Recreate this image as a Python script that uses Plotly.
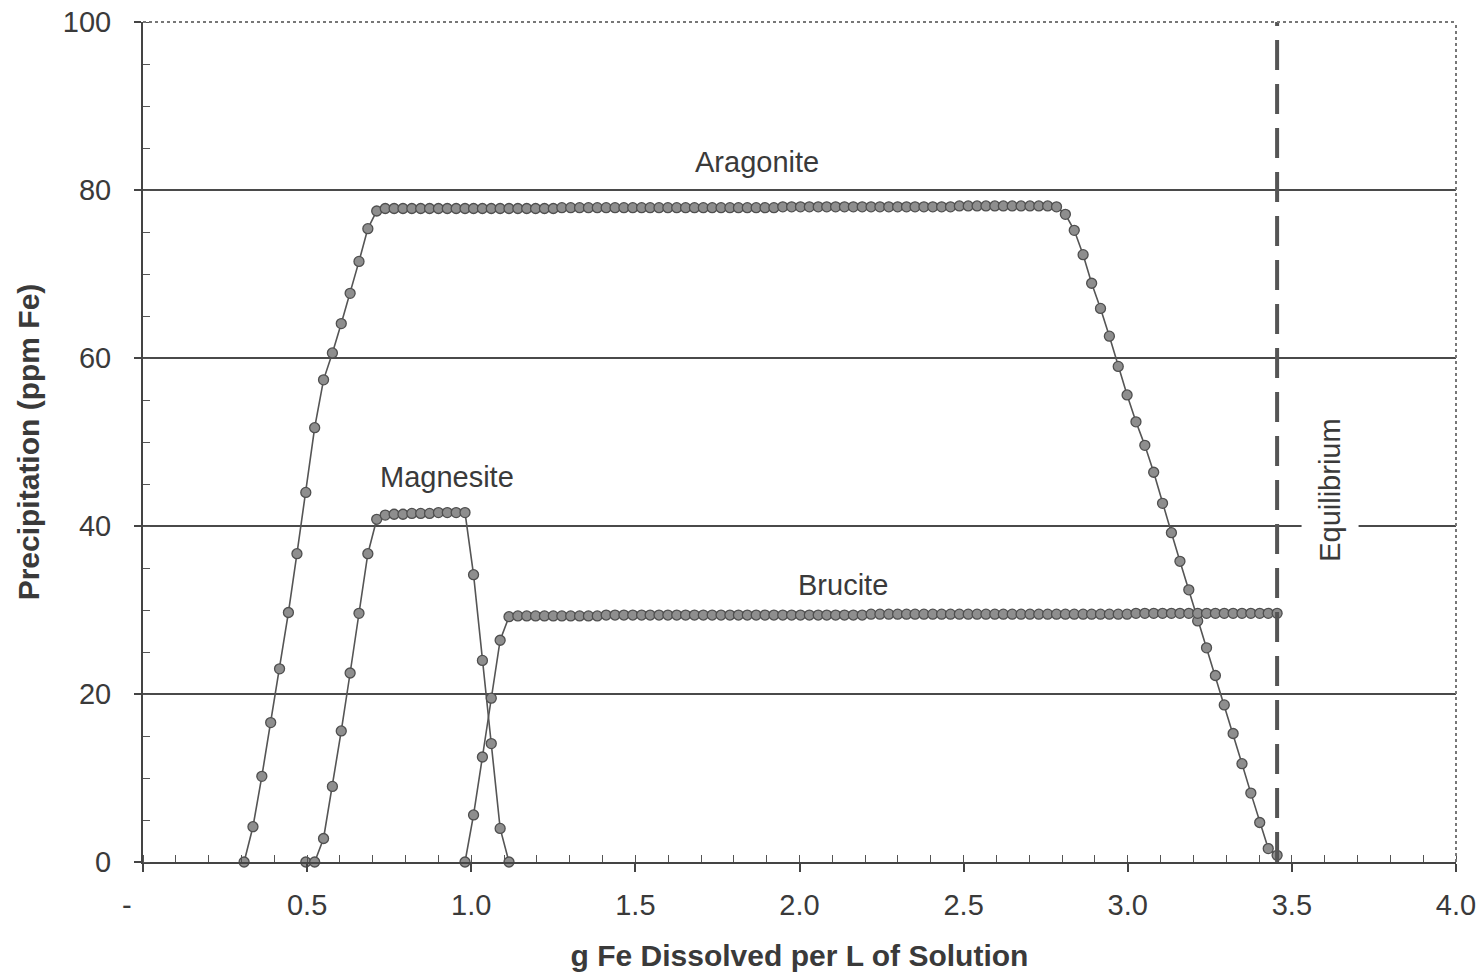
import plotly.graph_objects as go

# ---------------- data ----------------
X = [0.308, 0.335, 0.362, 0.389, 0.416, 0.443, 0.469, 0.496, 0.523, 0.550,
     0.577, 0.604, 0.631, 0.658, 0.685, 0.712, 0.738, 0.765, 0.792, 0.819,
     0.846, 0.873, 0.900, 0.927, 0.954, 0.981, 1.007, 1.034, 1.061, 1.088,
     1.115, 1.142, 1.169, 1.196, 1.223, 1.250, 1.276, 1.303, 1.330, 1.357,
     1.384, 1.411, 1.438, 1.465, 1.492, 1.519, 1.545, 1.572, 1.599, 1.626,
     1.653, 1.680, 1.707, 1.734, 1.761, 1.788, 1.814, 1.841, 1.868, 1.895,
     1.922, 1.949, 1.976, 2.003, 2.030, 2.057, 2.083, 2.110, 2.137, 2.164,
     2.191, 2.218, 2.245, 2.272, 2.299, 2.326, 2.352, 2.379, 2.406, 2.433,
     2.460, 2.487, 2.514, 2.541, 2.568, 2.595, 2.621, 2.648, 2.675, 2.702,
     2.729, 2.756, 2.783, 2.810, 2.837, 2.864, 2.890, 2.917, 2.944, 2.971,
     2.998, 3.025, 3.052, 3.079, 3.106, 3.133, 3.159, 3.186, 3.213, 3.240,
     3.267, 3.294, 3.321, 3.348, 3.375, 3.402, 3.428, 3.455]

aragonite = [0.0, 4.2, 10.2, 16.6, 23.0, 29.7, 36.7, 44.0, 51.7, 57.4,
             60.6, 64.1, 67.7, 71.5, 75.4, 77.5, 77.8, 77.8, 77.8, 77.8,
             77.8, 77.8, 77.8, 77.8, 77.8, 77.8, 77.8, 77.8, 77.8, 77.8,
             77.8, 77.8, 77.8, 77.8, 77.8, 77.8, 77.9, 77.9, 77.9, 77.9,
             77.9, 77.9, 77.9, 77.9, 77.9, 77.9, 77.9, 77.9, 77.9, 77.9,
             77.9, 77.9, 77.9, 77.9, 77.9, 77.9, 77.9, 77.9, 77.9, 77.9,
             77.9, 78.0, 78.0, 78.0, 78.0, 78.0, 78.0, 78.0, 78.0, 78.0,
             78.0, 78.0, 78.0, 78.0, 78.0, 78.0, 78.0, 78.0, 78.0, 78.0,
             78.0, 78.1, 78.1, 78.1, 78.1, 78.1, 78.1, 78.1, 78.1, 78.1,
             78.1, 78.1, 78.0, 77.1, 75.2, 72.3, 68.9, 65.9, 62.6, 59.0,
             55.6, 52.4, 49.6, 46.4, 42.7, 39.2, 35.8, 32.4, 28.7, 25.5,
             22.2, 18.7, 15.3, 11.7, 8.2, 4.7, 1.6, 0.8]

# magnesite occupies X[7] .. X[30]
magnesite_x = X[7:31]
magnesite = [0.0, 0.0, 2.8, 9.0, 15.6, 22.5, 29.6, 36.7, 40.8, 41.3,
             41.4, 41.4, 41.5, 41.5, 41.5, 41.6, 41.6, 41.6, 41.6,
             34.2, 24.0, 14.1, 4.0, 0.0]

# brucite occupies X[25] .. X[117]
brucite_x = X[25:]
brucite = [0.0, 5.6, 12.5, 19.5, 26.4, 29.2,
           29.3, 29.3, 29.3, 29.3, 29.3, 29.3, 29.3, 29.3, 29.3, 29.3,
           29.4, 29.4, 29.4, 29.4, 29.4, 29.4, 29.4, 29.4, 29.4, 29.4,
           29.4, 29.4, 29.4, 29.4, 29.4, 29.4, 29.4, 29.4, 29.4, 29.4,
           29.4, 29.4, 29.4, 29.4, 29.4, 29.4, 29.4, 29.4, 29.4, 29.4,
           29.5, 29.5, 29.5, 29.5, 29.5, 29.5, 29.5, 29.5, 29.5, 29.5,
           29.5, 29.5, 29.5, 29.5, 29.5, 29.5, 29.5, 29.5, 29.5, 29.5,
           29.5, 29.5, 29.5, 29.5, 29.5, 29.5, 29.5, 29.5, 29.5, 29.5,
           29.6, 29.6, 29.6, 29.6, 29.6, 29.6, 29.6, 29.6, 29.6, 29.6,
           29.6, 29.6, 29.6, 29.6, 29.6, 29.6, 29.6]

EQUILIBRIUM_X = 3.455

x_tickvals = [0, 0.5, 1.0, 1.5, 2.0, 2.5, 3.0, 3.5, 4.0]
x_ticktext = ["-\u00a0\u00a0\u00a0\u00a0", "0.5", "1.0", "1.5", "2.0", "2.5", "3.0", "3.5", "4.0"]
y_tickvals = [0, 20, 40, 60, 80, 100]

labels = [("Aragonite", 1.871, 83.3), ("Magnesite", 0.926, 45.8), ("Brucite", 2.133, 33.0)]

# ---------------- style ----------------
FONT = "Liberation Sans, Arial, sans-serif"
TXT = "#3a3a3a"
LINE = "#555555"
MARK_FILL = "#8e8e8e"
MARK_EDGE = "#4f4f4f"

fig = go.Figure()
for xs, ys, name in [(X, aragonite, "Aragonite"), (magnesite_x, magnesite, "Magnesite"),
                     (brucite_x, brucite, "Brucite")]:
    fig.add_trace(go.Scatter(
        x=xs, y=ys, name=name, mode="lines+markers",
        line=dict(color=LINE, width=1.6),
        marker=dict(symbol="circle", size=10, color=MARK_FILL,
                    line=dict(color=MARK_EDGE, width=1.3)),
        showlegend=False, cliponaxis=False, hoverinfo="skip"))

# equilibrium dashed line
fig.add_shape(type="line", xref="x", yref="y", x0=EQUILIBRIUM_X, x1=EQUILIBRIUM_X,
              y0=0, y1=100, line=dict(color="#555555", width=4, dash="30px,14px"))

# scanned-style top and right frame
fig.add_shape(type="line", xref="paper", yref="paper", x0=0, x1=1, y0=1, y1=1,
              line=dict(color="#777777", width=2, dash="dot"))
fig.add_shape(type="line", xref="paper", yref="paper", x0=1, x1=1, y0=0, y1=1,
              line=dict(color="#777777", width=2, dash="dot"))

for text, lx, ly in labels:
    fig.add_annotation(x=lx, y=ly, xref="x", yref="y", text=text, showarrow=False,
                       font=dict(family=FONT, size=29, color=TXT))

fig.add_annotation(x=3.616, y=44.3, xref="x", yref="y", text="Equilibrium",
                   textangle=-90, showarrow=False, bgcolor="white", borderpad=12,
                   font=dict(family=FONT, size=29, color=TXT))

fig.update_layout(
    width=1484, height=976,
    margin=dict(l=143, r=28, t=22, b=114),
    paper_bgcolor="white", plot_bgcolor="white",
    font=dict(family=FONT, color=TXT),
    hovermode=False,
    xaxis=dict(
        range=[0, 4.0], tickvals=x_tickvals, ticktext=x_ticktext, automargin=False,
        ticklabeloverflow="allow",
        showgrid=False, zeroline=False, showline=True, linecolor="#444444", linewidth=2,
        ticks="outside", ticklen=8, tickwidth=1.5, tickcolor="#444444",
        ticklabelstandoff=8,
        tickfont=dict(family=FONT, size=29, color=TXT),
        minor=dict(dtick=0.1, tick0=0, ticks="inside", ticklen=7, tickwidth=1.3,
                   tickcolor="#555555", showgrid=False),
        title=dict(text="<b>g Fe Dissolved per L of Solution</b>", standoff=25,
                   font=dict(family=FONT, size=30, color=TXT)),
    ),
    yaxis=dict(
        range=[0, 100], tickvals=y_tickvals, automargin=False,
        ticklabeloverflow="allow",
        showgrid=True, gridcolor="#4a4a4a", gridwidth=1.5,
        zeroline=False, showline=True, linecolor="#444444", linewidth=2,
        ticks="outside", ticklen=7, tickwidth=1.5, tickcolor="#444444",
        ticklabelstandoff=17,
        tickfont=dict(family=FONT, size=29, color=TXT),
        minor=dict(dtick=5, tick0=0, ticks="inside", ticklen=7, tickwidth=1.3,
                   tickcolor="#555555", showgrid=False),
        title=dict(text="<b>Precipitation (ppm Fe)</b>", standoff=14,
                   font=dict(family=FONT, size=30, color=TXT)),
    ),
)

# remove the page's default body margin so the figure sits at the window origin
fig.write_html("out.html", config={"displayModeBar": False},
               post_script="document.body.style.margin='0';document.body.style.overflow='hidden';")
